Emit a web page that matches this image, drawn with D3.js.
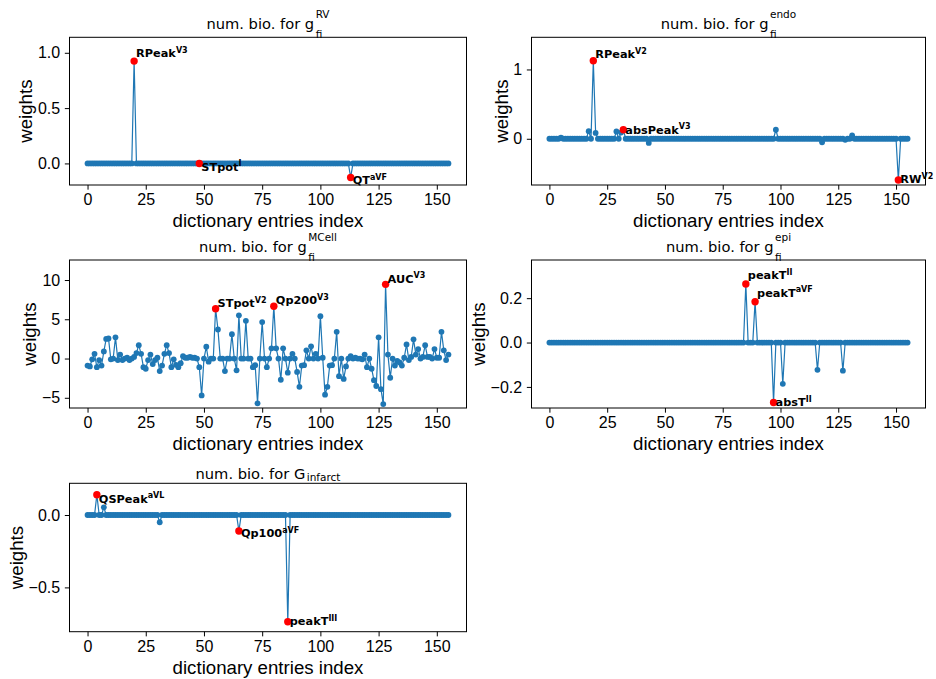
<!DOCTYPE html>
<html><head><meta charset="utf-8">
<script src="https://cdn.jsdelivr.net/npm/d3@7"></script>
<style>body{margin:0;background:#fff}svg{display:block}</style>
</head><body>
<svg id="chart" width="936" height="679"></svg>
<script>
// ---------- data ----------
const entryIndex = d3.range(156);           // dictionary entries 0..155
const xTicks = [0, 25, 50, 75, 100, 125, 150];
const xLabel = "dictionary entries index";
const yLabel = "weights";

const rvWeights = [
  0,0,0,0,0,0,0,0,0,0,0,0,0,0,0,0,0,0,0,0,
  0.925,0,0,0,0,0,0,0,0,0,0,0,0,0,0,0,0,0,0,0,
  0,0,0,0,0,0,0,0,0,0,0,0,0,0,0,0,0,0,0,0,
  0,0,0,0,0,0,0,0,0,0,0,0,0,0,0,0,0,0,0,0,
  0,0,0,0,0,0,0,0,0,0,0,0,0,0,0,0,0,0,0,0,
  0,0,0,0,0,0,0,0,0,0,0,0,0,-0.127,0,0,0,0,0,0,
  0,0,0,0,0,0,0,0,0,0,0,0,0,0,0,0,0,0,0,0,
  0,0,0,0,0,0,0,0,0,0,0,0,0,0,0,0
];
const endoWeights = [
  0,0,0,0,0,0.015,0,0,0,0,0,0,0,0,0,0,0,0.11,0,1.125,
  0.085,0,0,0,0,0,0,0,0,0.105,0,0.09,0.13,0,0,0,0,0,0,0,
  0,0,0,-0.06,0,0,0,0,0,0,0,0,0,0,0,0,0,0,0,0,
  0,0,0,0,0,0,0,0,0,0,0,0,0,0,0,0,0,0,0,0,
  0,0,0,0,0,0,0,0,0,0,0,0,0,0,0,0,0,0,0.13,0,
  0,0,0,0,0,0,0,0,0,0,0,0,0,0,0,0,0,0,-0.05,0,
  0,0,0,0,0,0,0,0,-0.015,0,0,0.05,0,0,0,0,0,0,0,0,
  0,0,0,0,0,0,0,0,0,0,0,-0.594,0,0,0,0
];
const mcellWeights = [
  -0.9,-1.0,-0.1,0.6,-1.1,-0.2,-0.9,0.9,2.5,2.55,-0.1,0.0,2.7,-0.2,0.5,-0.2,0.0,0.1,-0.2,0.0,
  0.2,0.7,1.7,0.6,-1.1,-1.3,-0.2,0.5,-0.7,-0.2,0.1,-1.6,-0.9,0.6,1.7,0.7,-1.1,-0.1,-0.8,-1.1,
  -0.6,0.3,0.1,0.1,0.2,0.1,0.1,0.0,-1.1,-4.7,0.0,1.5,-0.4,0.0,0.0,6.35,3.7,0.0,0.0,-1.6,
  0.0,0.0,3.1,0.0,-1.5,5.5,0.0,0.0,4.8,0.0,0.0,-1.1,-0.85,-5.7,0.0,4.65,0.0,-1.1,0.0,1.3,
  6.65,1.3,0.0,-2.7,1.3,0.0,-1.8,0.0,0.6,0.0,-1.7,-3.6,-0.9,-0.85,1.05,0.0,1.55,0.0,0.6,0.0,
  5.4,0.1,-4.6,-3.6,-0.9,-0.85,0.0,3.4,-2.25,0.0,-2.6,-1.0,0.0,0.3,0.0,0.1,0.0,0.0,-0.1,0.5,
  -1.1,0.0,-1.3,-2.75,-3.5,2.7,-3.9,-5.8,9.45,0.5,-2.45,0.0,-0.9,-0.3,-0.5,-0.9,0.1,1.8,-0.2,0.2,
  2.45,0.5,1.2,0.0,0.2,1.7,0.2,0.2,0.0,1.2,0.1,0.1,3.4,1.05,-0.2,0.5
];
const epiWeights = [
  0,0,0,0,0,0,0,0,0,0,0,0,0,0,0,0,0,0,0,0,
  0,0,0,0,0,0,0,0,0,0,0,0,0,0,0,0,0,0,0,0,
  0,0,0,0,0,0,0,0,0,0,0,0,0,0,0,0,0,0,0,0,
  0,0,0,0,0,0,0,0,0,0,0,0,0,0,0,0,0,0,0,0,
  0,0,0,0,0,0.264,0,0,0,0.184,0,0,0,0,0,0,0,-0.27,0,0,
  0,-0.186,0,0,0,0,0,0,0,0,0,0,0,0,0,0,-0.123,0,0,0,
  0,0,0,0,0,0,0,-0.127,0,0,0,0,0,0,0,0,0,0,0,0,
  0,0,0,0,0,0,0,0,0,0,0,0,0,0,0,0
];
const infarctWeights = [
  0,0,0,0,0.14,0,0,0.053,0,0,0,0,0,0,0,0,0,0,0,0,
  0,0,0,0,0,0,0,0,0,0,0,-0.05,0,0,0,0,0,0,0,0,
  0,0,0,0,0,0,0,0,0,0,0,0,0,0,0,0,0,0,0,0,
  0,0,0,0,0,-0.11,0,0,0,0,0,0,0,0,0,0,0,0,0,0,
  0,0,0,0,0,0,-0.737,0,0,0,0,0,0,0,0,0,0,0,0,0,
  0,0,0,0,0,0,0,0,0,0,0,0,0,0,0,0,0,0,0,0,
  0,0,0,0,0,0,0,0,0,0,0,0,0,0,0,0,0,0,0,0,
  0,0,0,0,0,0,0,0,0,0,0,0,0,0,0,0
];

// highlighted (red) entries and their biomarker names
const rvRedIdx = [20, 48, 113];
const rvRedName = ["RPeak", "STpot", "QT"];
const rvRedLead = ["V3", "I", "aVF"];
const endoRedIdx = [19, 32, 151];
const endoRedName = ["RPeak", "absPeak", "RW"];
const endoRedLead = ["V2", "V3", "V2"];
const mcellRedIdx = [55, 80, 128];
const mcellRedName = ["STpot", "Qp200", "AUC"];
const mcellRedLead = ["V2", "V3", "V3"];
const epiRedIdx = [85, 89, 97];
const epiRedName = ["peakT", "peakT", "absT"];
const epiRedLead = ["II", "aVF", "II"];
const infarctRedIdx = [4, 65, 86];
const infarctRedName = ["QSPeak", "Qp100", "peakT"];
const infarctRedLead = ["aVL", "aVF", "III"];

// y ticks
const rvYTicks = [0, 0.5, 1.0];
const rvYTickLabels = ["0.0", "0.5", "1.0"];
const endoYTicks = [0, 1];
const endoYTickLabels = ["0", "1"];
const mcellYTicks = [-5, 0, 5, 10];
const mcellYTickLabels = ["\u22125", "0", "5", "10"];
const epiYTicks = [-0.2, 0, 0.2];
const epiYTickLabels = ["\u22120.2", "0.0", "0.2"];
const infarctYTicks = [-0.5, 0];
const infarctYTickLabels = ["\u22120.5", "0.0"];

// titles
const titleMain = ["num. bio. for g", "num. bio. for g", "num. bio. for g", "num. bio. for g", "num. bio. for G"];
const titleSub = ["fi", "fi", "fi", "fi", "infarct"];
const titleSup = ["RV", "endo", "MCell", "epi", ""];

// ---------- layout ----------
const L = [69.5, 466.5], R = [531.5, 925.5];
const rows = [[37.3, 185], [260, 408], [483.3, 631.7]];
const xDomain = [-7.75, 162.75];

const panels = [
  {cols: L, row: rows[0], yDomain: [-0.195, 1.14], w: rvWeights, ticks: rvYTicks, tickLabels: rvYTickLabels,
   red: rvRedIdx, names: rvRedName, leads: rvRedLead, labDy: [-3.7, 7.3, 7], t: 0},
  {cols: R, row: rows[0], yDomain: [-0.667, 1.464], w: endoWeights, ticks: endoYTicks, tickLabels: endoYTickLabels,
   red: endoRedIdx, names: endoRedName, leads: endoRedLead, labDy: [-2.4, 4, 3.4], t: 1},
  {cols: L, row: rows[1], yDomain: [-6.3, 12.55], w: mcellWeights, ticks: mcellYTicks, tickLabels: mcellYTickLabels,
   red: mcellRedIdx, names: mcellRedName, leads: mcellRedLead, labDy: [-1.6, -2, -1.7], t: 2},
  {cols: R, row: rows[1], yDomain: [-0.295, 0.372], w: epiWeights, ticks: epiYTicks, tickLabels: epiYTickLabels,
   red: epiRedIdx, names: epiRedName, leads: epiRedLead, labDy: [-5, -5, 4], t: 3},
  {cols: L, row: rows[2], yDomain: [-0.806, 0.219], w: infarctWeights, ticks: infarctYTicks, tickLabels: infarctYTickLabels,
   red: infarctRedIdx, names: infarctRedName, leads: infarctRedLead, labDy: [8, 6.3, 3.3], t: 4}
];

const BLUE = "#1f77b4";
const svg = d3.select("#chart");
const tickFont = "'Liberation Sans', Arial, sans-serif";
const titleFont = "'DejaVu Sans', sans-serif";

panels.forEach(p => {
  const [x0, x1] = p.cols, [y0, y1] = p.row;
  const x = d3.scaleLinear().domain(xDomain).range([x0, x1]);
  const y = d3.scaleLinear().domain(p.yDomain).range([y1, y0]);
  const g = svg.append("g");

  // line
  g.append("path")
    .datum(entryIndex)
    .attr("fill", "none").attr("stroke", BLUE).attr("stroke-width", 1.2)
    .attr("d", d3.line().x(i => x(i)).y(i => y(p.w[i])));
  // markers
  g.append("g").selectAll("circle").data(entryIndex).join("circle")
    .attr("cx", i => x(i)).attr("cy", i => y(p.w[i])).attr("r", 2.9).attr("fill", BLUE);
  g.append("g").selectAll("circle").data(p.red).join("circle")
    .attr("cx", i => x(i)).attr("cy", i => y(p.w[i])).attr("r", 3.7).attr("fill", "red");
  // labels
  p.red.forEach((i, k) => {
    const t = g.append("text")
      .attr("x", x(i) + 2).attr("y", y(p.w[i]) + p.labDy[k])
      .attr("font-family", titleFont).attr("font-weight", "bold").attr("font-size", 11.3).attr("fill", "#000");
    t.append("tspan").text(p.names[k]);
    t.append("tspan").attr("dy", -4.3).attr("font-size", 8).text(p.leads[k]);
  });

  // frame
  g.append("rect").attr("x", x0).attr("y", y0).attr("width", x1 - x0).attr("height", y1 - y0)
    .attr("fill", "none").attr("stroke", "#000").attr("stroke-width", 1);

  // axes
  const xa = g.append("g").attr("transform", `translate(0,${y1})`)
    .call(d3.axisBottom(x).tickValues(xTicks).tickSize(4.67).tickPadding(4.4).tickSizeOuter(0));
  const ya = g.append("g").attr("transform", `translate(${x0},0)`)
    .call(d3.axisLeft(y).tickValues(p.ticks).tickFormat((d, j) => p.tickLabels[j]).tickSize(4.67).tickPadding(4.67).tickSizeOuter(0));
  [xa, ya].forEach(a => {
    a.select(".domain").remove();
    a.selectAll("line").attr("stroke", "#000").attr("stroke-width", 1);
    a.selectAll("text").attr("font-family", tickFont).attr("font-size", 16).attr("fill", "#000");
  });

  // axis labels
  g.append("text").attr("x", (x0 + x1) / 2).attr("y", y1 + 42.3)
    .attr("text-anchor", "middle").attr("font-family", tickFont).attr("font-size", 18.67).text(xLabel);
  const bb = ya.node().getBBox();
  const lx = x0 + bb.x - 5.5;
  g.append("text").attr("transform", `translate(${lx},${(y0 + y1) / 2}) rotate(-90)`)
    .attr("text-anchor", "middle").attr("font-family", tickFont).attr("font-size", 18.67).text(yLabel);

  // title
  const tg = g.append("g").attr("font-family", titleFont).attr("fill", "#000");
  const main = tg.append("text").attr("x", 0).attr("y", 0).attr("font-size", 14.67).text(titleMain[p.t]);
  const mw = main.node().getComputedTextLength();
  const hasSup = titleSup[p.t] !== "";
  const sub = tg.append("text").attr("x", mw + 1.5).attr("y", hasSup ? 9 : 2.3).attr("font-size", 10.5).text(titleSub[p.t]);
  let extra = sub.node().getComputedTextLength();
  if (hasSup) {
    const sup = tg.append("text").attr("x", mw + 1.5).attr("y", -11).attr("font-size", 10.5).text(titleSup[p.t]);
    extra = Math.max(extra, sup.node().getComputedTextLength());
  }
  const total = mw + 1.5 + extra;
  const base = hasSup ? y0 - 8 : y0 - 4.6;
  tg.attr("transform", `translate(${(x0 + x1) / 2 - total / 2},${base})`);
});
</script>
</body></html>
